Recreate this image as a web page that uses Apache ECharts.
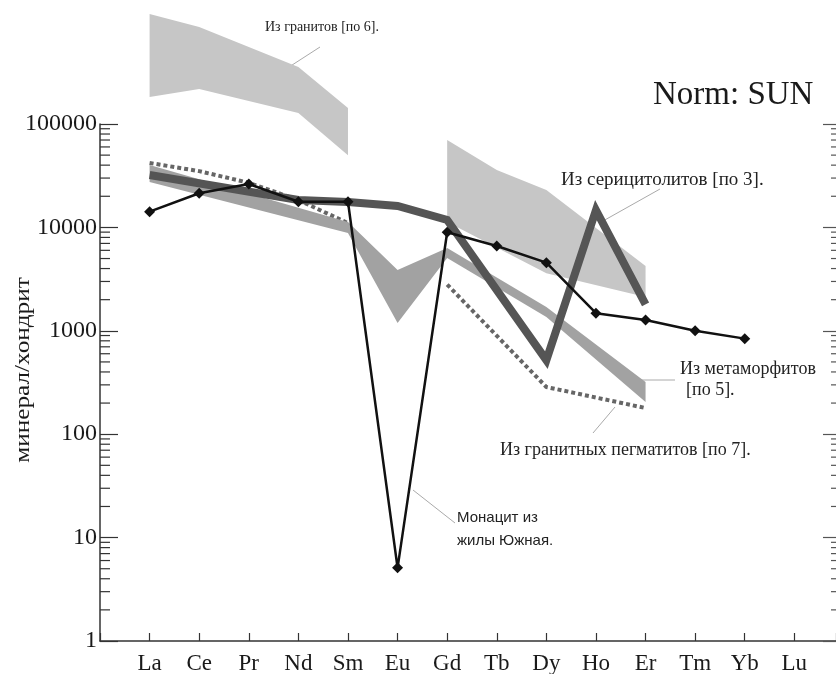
<!DOCTYPE html>
<html>
<head>
<meta charset="utf-8">
<title>REE spectra</title>
<script src="https://cdn.jsdelivr.net/npm/echarts@6.0.0/dist/echarts.min.js"></script>
<style>
  html, body { margin: 0; padding: 0; background: #fff; }
  #chart { width: 836px; height: 674px; }
</style>
</head>
<body>
<div id="chart"></div>
<script>
// элементы (ось X)
var elements = ["La", "Ce", "Pr", "Nd", "Sm", "Eu", "Gd", "Tb", "Dy", "Ho", "Er", "Tm", "Yb", "Lu"];

// монацит из жилы Южная (La..Yb)
var monaziteX = [0, 1, 2, 3, 4, 5, 6, 7, 8, 9, 10, 11, 12];
var monaziteVals = [14200, 21400, 26300, 17700, 17700, 5.1, 8970, 6610, 4560, 1480, 1270, 1000, 840];

// серицитолиты
var sericiteX = [0, 3, 4, 5, 6, 8, 9, 10];
var sericiteVals = [32100, 18400, 17600, 16100, 11800, 520, 14700, 1800];

// гранитные пегматиты (Eu нет)
var pegmatiteX1 = [0, 1, 2, 3, 4];
var pegmatiteVals1 = [42000, 35000, 27000, 18400, 11000];
var pegmatiteX2 = [6, 8, 10];
var pegmatiteVals2 = [2800, 286, 179];

// метаморфиты (полоса)
var metaX = [0, 4, 5, 6, 8, 10];
var metaUpper = [40100, 11300, 3870, 6320, 1700, 320];
var metaLower = [27500, 8830, 1190, 5060, 1360, 205];

// граниты, легкие РЗЭ
var granite1X = [0, 1, 3, 4];
var granite1Upper = [1160000, 867000, 356000, 143000];
var granite1Lower = [182000, 218000, 128000, 50000];

// граниты, тяжелые РЗЭ
var granite2UpX = [6, 7, 8, 10];
var granite2Upper = [70000, 35900, 23000, 4230];
var granite2LowX = [6, 8, 10];
var granite2Lower = [11300, 3600, 2120];

// мелкие деления логарифмической шкалы
var decades = [1, 10, 100, 1000, 10000];
var minorMult = [2, 3, 4, 5, 6, 7, 8, 9];

var X_MIN = -1;
var X_MAX = 13.84;

var minorTicks = [];
decades.forEach(function (d) {
  minorMult.forEach(function (m) {
    minorTicks.push([X_MIN, d * m]);
  });
});

function pairs(xs, ys) {
  return xs.map(function (x, i) {
    return [x, ys[i]];
  });
}

// полоса-многоугольник через api.coord
function bandRender(upX, up, lowX, low, color) {
  return function (params, api) {
    var top = upX.map(function (x, i) {
      return api.coord([x, up[i]]);
    });
    var bottom = lowX.map(function (x, i) {
      return api.coord([x, low[i]]);
    }).reverse();
    return {
      type: "polygon",
      shape: { points: top.concat(bottom) },
      style: { fill: color },
    };
  };
}

var serif = "'Liberation Serif', 'DejaVu Serif', serif";

var myChart = echarts.init(document.getElementById("chart"));

var option = {
  animation: false,
  backgroundColor: "#fff",
  grid: {
    left: 100,
    right: 0,
    top: 124,
    bottom: 33,
    containLabel: false,
    outerBoundsMode: "none",
  },
  xAxis: {
    type: "value",
    min: X_MIN,
    max: X_MAX,
    interval: 1,
    splitLine: { show: false },
    axisLine: { onZero: false, lineStyle: { color: "#333", width: 1.5 } },
    axisTick: { inside: true, length: 8, lineStyle: { color: "#333", width: 1.2 } },
    axisLabel: {
      margin: 11,
      color: "#1a1a1a",
      fontFamily: serif,
      fontSize: 23,
      formatter: function (v) {
        if (Math.abs(v - Math.round(v)) < 1e-6 && v >= 0 && v < elements.length) {
          return elements[Math.round(v)];
        }
        return "";
      },
    },
  },
  yAxis: [
    {
      type: "log",
      logBase: 10,
      min: 1,
      max: 100000,
      splitLine: { show: false },
      axisLine: { show: true, onZero: false, lineStyle: { color: "#333", width: 1.5 } },
      axisTick: { inside: true, length: 18, lineStyle: { color: "#333", width: 1.2 } },
      axisLabel: {
        margin: 3,
        color: "#1a1a1a",
        fontFamily: serif,
        fontSize: 24,
        formatter: function (v) {
          return String(Math.round(v));
        },
      },
    },
    {
      type: "log",
      logBase: 10,
      min: 1,
      max: 100000,
      position: "right",
      splitLine: { show: false },
      axisLine: { show: false, onZero: false },
      axisTick: { inside: true, length: 13, lineStyle: { color: "#555", width: 1.2 } },
      axisLabel: { show: false },
    },
  ],
  series: [
    {
      // мелкие деления слева и справа
      name: "minor",
      type: "custom",
      z: 1,
      silent: true,
      data: minorTicks,
      renderItem: function (params, api) {
        var v = api.value(1);
        var pl = api.coord([X_MIN, v]);
        var pr = api.coord([X_MAX, v]);
        return {
          type: "group",
          children: [
            {
              type: "line",
              shape: { x1: pl[0], y1: pl[1], x2: pl[0] + 10, y2: pl[1] },
              style: { stroke: "#333", lineWidth: 1.2 },
            },
            {
              type: "line",
              shape: { x1: pr[0] - 5, y1: pr[1], x2: pr[0], y2: pr[1] },
              style: { stroke: "#555", lineWidth: 1.2 },
            },
          ],
        };
      },
    },
    {
      name: "Из гранитных пегматитов",
      type: "line",
      z: 2,
      symbol: "none",
      data: pairs(pegmatiteX1, pegmatiteVals1).concat(["-"], pairs(pegmatiteX2, pegmatiteVals2)),
      lineStyle: { color: "#666", width: 4, type: [4, 3] },
    },
    {
      name: "Из гранитов 1",
      type: "custom",
      z: 3,
      silent: true,
      data: [[granite1X[0], granite1Upper[0]]],
      renderItem: bandRender(granite1X, granite1Upper, granite1X, granite1Lower, "#c6c6c6"),
    },
    {
      name: "Из гранитов 2",
      type: "custom",
      z: 3,
      silent: true,
      data: [[granite2UpX[0], granite2Upper[0]]],
      renderItem: bandRender(granite2UpX, granite2Upper, granite2LowX, granite2Lower, "#c6c6c6"),
    },
    {
      name: "Из метаморфитов",
      type: "custom",
      z: 4,
      silent: true,
      data: [[metaX[0], metaUpper[0]]],
      renderItem: bandRender(metaX, metaUpper, metaX, metaLower, "#a2a2a2"),
    },
    {
      name: "Из серицитолитов",
      type: "line",
      z: 5,
      symbol: "none",
      data: pairs(sericiteX, sericiteVals),
      lineStyle: { color: "#555", width: 8, join: "miter", miterLimit: 10 },
    },
    {
      name: "Монацит",
      type: "line",
      z: 6,
      symbol: "diamond",
      symbolSize: 11,
      data: pairs(monaziteX, monaziteVals),
      itemStyle: { color: "#111" },
      lineStyle: { color: "#111", width: 2.5 },
    },
  ],
  graphic: [
    // подпись оси Y (растянута, как в оригинале)
    {
      type: "text",
      x: 23,
      y: 370,
      rotation: Math.PI / 2,
      scaleX: 1.2,
      style: { text: "минерал/хондрит", fontFamily: serif, fontSize: 21, fill: "#1a1a1a", align: "center", verticalAlign: "middle" },
    },
    // подписи
    { type: "text", x: 265, y: 27, style: { text: "Из гранитов [по 6].", fontFamily: serif, fontSize: 14, fill: "#222", verticalAlign: "middle" } },
    { type: "text", x: 653, y: 95, style: { text: "Norm: SUN", fontFamily: serif, fontSize: 33, fill: "#1a1a1a", verticalAlign: "middle" } },
    { type: "text", x: 561, y: 180, style: { text: "Из серицитолитов [по 3].", fontFamily: serif, fontSize: 19, fill: "#222", verticalAlign: "middle" } },
    { type: "text", x: 680, y: 369, style: { text: "Из метаморфитов", fontFamily: serif, fontSize: 18, fill: "#222", verticalAlign: "middle" } },
    { type: "text", x: 686, y: 390, style: { text: "[по 5].", fontFamily: serif, fontSize: 18, fill: "#222", verticalAlign: "middle" } },
    { type: "text", x: 500, y: 450, style: { text: "Из гранитных пегматитов [по 7].", fontFamily: serif, fontSize: 18, fill: "#222", verticalAlign: "middle" } },
    { type: "text", x: 457, y: 518, style: { text: "Монацит из", fontFamily: "'Liberation Sans', Arial, sans-serif", fontSize: 15, fill: "#222", verticalAlign: "middle" } },
    { type: "text", x: 457, y: 541, style: { text: "жилы Южная.", fontFamily: "'Liberation Sans', Arial, sans-serif", fontSize: 15, fill: "#222", verticalAlign: "middle" } },
    // выноски
    { type: "line", shape: { x1: 320, y1: 47, x2: 272, y2: 78 }, style: { stroke: "#aaa", lineWidth: 1 } },
    { type: "line", shape: { x1: 660, y1: 189, x2: 603, y2: 221 }, style: { stroke: "#aaa", lineWidth: 1 } },
    { type: "line", shape: { x1: 675, y1: 380, x2: 630, y2: 380 }, style: { stroke: "#aaa", lineWidth: 1 } },
    { type: "line", shape: { x1: 593, y1: 433, x2: 615, y2: 407 }, style: { stroke: "#aaa", lineWidth: 1 } },
    { type: "line", shape: { x1: 455, y1: 523, x2: 413, y2: 490 }, style: { stroke: "#aaa", lineWidth: 1 } },
  ],
};

myChart.setOption(option);
</script>
</body>
</html>
